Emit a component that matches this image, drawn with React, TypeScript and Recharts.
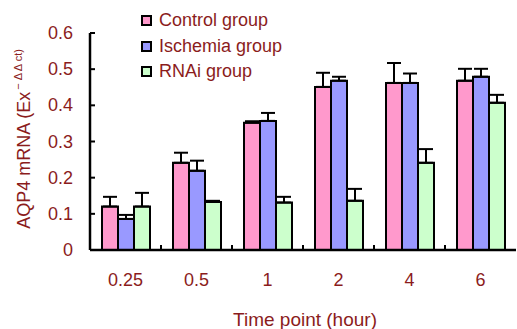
import { BarChart, Bar, XAxis, YAxis, ErrorBar, Legend } from "recharts";

const timePoints = ["0.25", "0.5", "1", "2", "4", "6"];
const controlMeans = [0.12, 0.241, 0.352, 0.451, 0.462, 0.468];
const controlErrs = [0.027, 0.028, 0.004, 0.039, 0.055, 0.033];
const ischemiaMeans = [0.086, 0.219, 0.357, 0.468, 0.462, 0.479];
const ischemiaErrs = [0.011, 0.028, 0.022, 0.011, 0.026, 0.022];
const rnaiMeans = [0.12, 0.133, 0.131, 0.136, 0.241, 0.407];
const rnaiErrs = [0.038, 0.003, 0.016, 0.033, 0.038, 0.022];
const yTicks = [0, 0.1, 0.2, 0.3, 0.4, 0.5, 0.6];

const TEXT = "#8b1c1c";
const FONT = "'Liberation Sans', Arial, sans-serif";

const data = timePoints.map((t, i) => ({
  time: t,
  control: controlMeans[i],
  controlErr: [0, controlErrs[i]],
  ischemia: ischemiaMeans[i],
  ischemiaErr: [0, ischemiaErrs[i]],
  rnai: rnaiMeans[i],
  rnaiErr: [0, rnaiErrs[i]],
}));

const YTick = (props: any) => {
  const { x, y, payload } = props;
  return (
    <g>
      <line x1={x} y1={y} x2={x + 5} y2={y} stroke="#000" strokeWidth={2} />
      <text x={x - 17} y={y + 6} textAnchor="end" fill={TEXT} fontSize={18} fontFamily={FONT}>
        {payload.value === 0 ? "0" : payload.value.toFixed(1)}
      </text>
    </g>
  );
};

const XTick = (props: any) => {
  const { x, y, payload, index } = props;
  const half = 71 / 2;
  return (
    <g>
      {index > 0 && <line x1={x - half} y1={y} x2={x - half} y2={y - 5} stroke="#000" strokeWidth={2} />}
      <text x={x} y={y + 36} textAnchor="middle" fill={TEXT} fontSize={18} fontFamily={FONT}>
        {payload.value}
      </text>
    </g>
  );
};

const LegendBox = (props: any) => {
  const { payload } = props;
  return (
    <div>
      {payload.map((p: any) => (
        <div key={p.value} style={{ display: "flex", alignItems: "center", height: 25.5 }}>
          <div
            style={{
              width: 7,
              height: 7,
              border: "2px solid #000",
              background: p.color,
              marginRight: 7,
            }}
          />
          <span style={{ color: TEXT, fontSize: 18, fontFamily: FONT }}>{p.value}</span>
        </div>
      ))}
    </div>
  );
};

export default function App() {
  return (
    <div style={{ position: "absolute", left: 0, top: 0, background: "#fff" }}>
      <BarChart
        width={517}
        height={329}
        data={data}
        margin={{ top: 33, right: 1, left: 0, bottom: 0 }}
        barGap={0}
        barSize={16}
      >
        <XAxis
          dataKey="time"
          height={79}
          tickLine={false}
          tickSize={0}
          tickMargin={0}
          axisLine={{ stroke: "#000", strokeWidth: 2.5 }}
          tick={<XTick />}
          interval={0}
        />
        <YAxis
          width={90}
          domain={[0, 0.6]}
          ticks={yTicks}
          tickLine={false}
          tickSize={0}
          tickMargin={0}
          axisLine={{ stroke: "#000", strokeWidth: 2.5 }}
          tick={<YTick />}
          label={{
            content: () => (
              <text
                transform="translate(30,139) rotate(-90)"
                textAnchor="middle"
                fill={TEXT}
                fontSize={18}
                fontFamily={FONT}
              >
                AQP4 mRNA (Ex
                <tspan fontSize={11} dy={-8} dx={2}>− Δ Δ ct)</tspan>
              </text>
            ),
          }}
        />
        <Legend
          layout="vertical"
          verticalAlign="middle"
          align="center"
          content={<LegendBox />}
          wrapperStyle={{ position: "absolute", left: 141, top: 8, width: 200 }}
        />
        <Bar dataKey="control" name="Control group" fill="#ff99cc" stroke="#000" strokeWidth={2} isAnimationActive={false}>
          <ErrorBar dataKey="controlErr" width={7} stroke="#000" strokeWidth={2} direction="y" />
        </Bar>
        <Bar dataKey="ischemia" name="Ischemia group" fill="#9999ff" stroke="#000" strokeWidth={2} isAnimationActive={false}>
          <ErrorBar dataKey="ischemiaErr" width={7} stroke="#000" strokeWidth={2} direction="y" />
        </Bar>
        <Bar dataKey="rnai" name="RNAi group" fill="#ccffcc" stroke="#000" strokeWidth={2} isAnimationActive={false}>
          <ErrorBar dataKey="rnaiErr" width={7} stroke="#000" strokeWidth={2} direction="y" />
        </Bar>
        <text x={305} y={326} textAnchor="middle" fill={TEXT} fontSize={19} fontFamily={FONT}>
          Time point (hour)
        </text>
      </BarChart>
    </div>
  );
}
